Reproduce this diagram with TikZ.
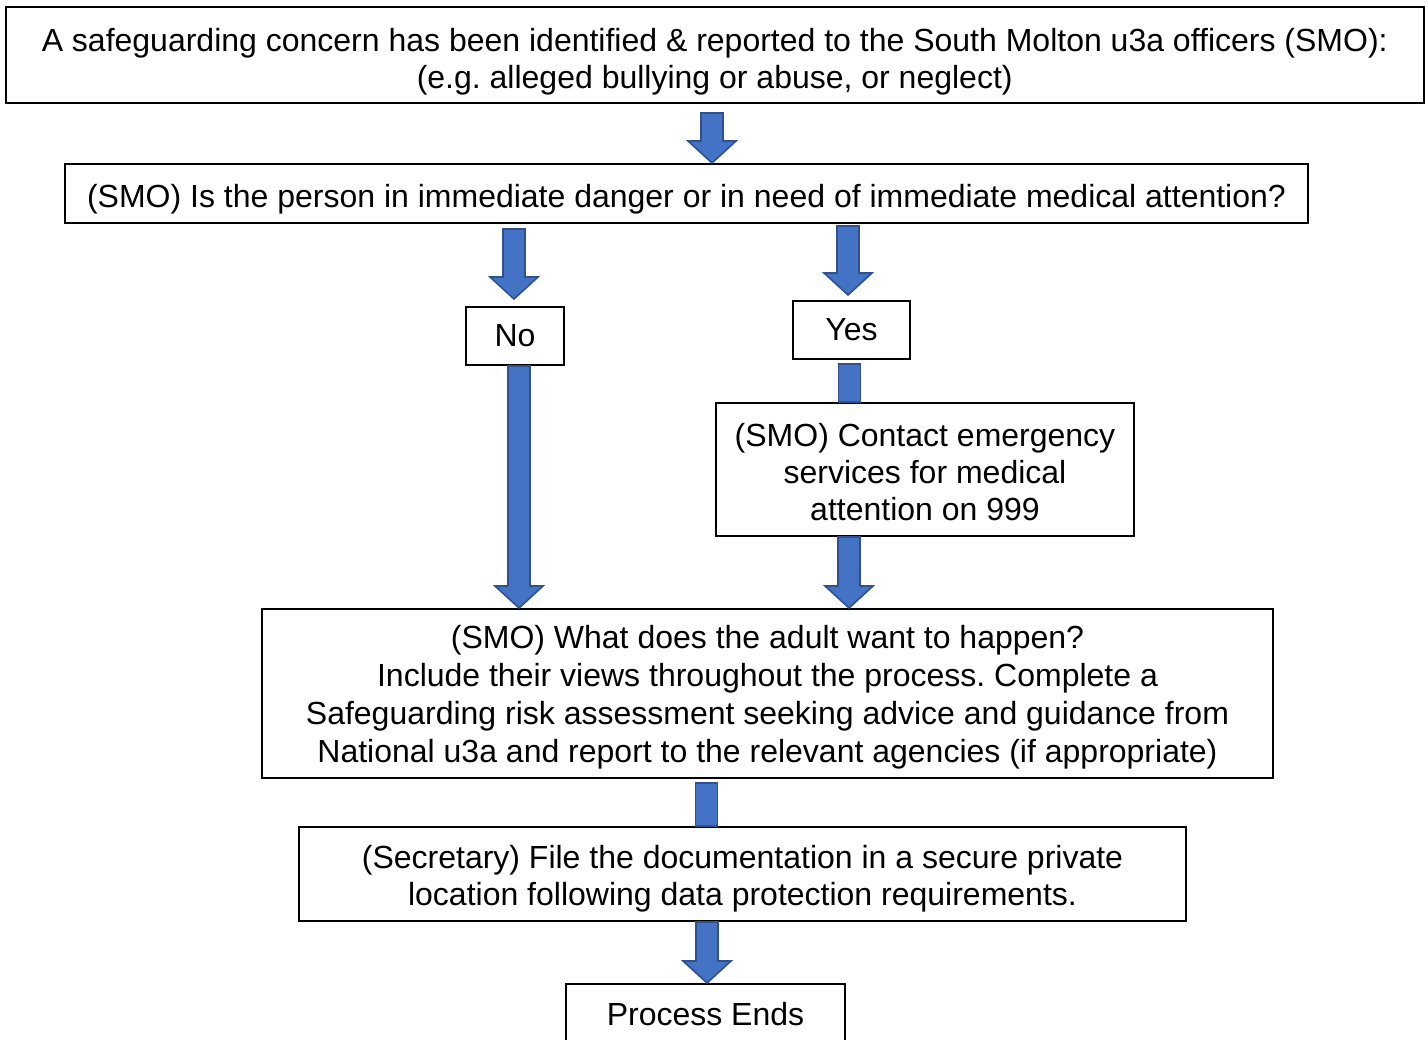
\documentclass[tikz,border=0pt]{standalone}
\usepackage{fontspec}
\setmainfont{Liberation Sans}
\frenchspacing
\usetikzlibrary{calc}
\definecolor{arrowblue}{HTML}{4472C4}
\definecolor{arrowedge}{HTML}{2F528F}
\tikzset{
  box/.style={
    rectangle, draw=black, line width=1pt, fill=white,
    align=center, inner sep=2pt,
    font=\fontsize{16}{18.5}\selectfont
  },
  barrow/.style={fill=arrowblue, draw=arrowedge, line width=0.8pt, line join=miter}
}
% strut that pushes the text of a box down a little
\newcommand{\lowered}[1]{\rule{0pt}{#1}}
% block arrow: x position, from anchor, to anchor, gap at start, gap at end
\newcommand{\blockarrow}[5]{%
  \draw[barrow] let \p1=(#2 -| #1,0), \p2=(#3 -| #1,0) in
    (\x1-5.5pt,\y1-#4) -- (\x1-5.5pt,\y2+#5+11pt) -- (\x1-12pt,\y2+#5+11pt)
    -- (\x1,\y2+#5) -- (\x1+12pt,\y2+#5+11pt) -- (\x1+5.5pt,\y2+#5+11pt)
    -- (\x1+5.5pt,\y1-#4) -- cycle;}
% plain bar between two boxes
\newcommand{\blockshaft}[3]{%
  \draw[barrow] let \p1=(#2 -| #1,0), \p2=(#3 -| #1,0) in
    (\x1-5.5pt,\y1-2pt) rectangle (\x1+5.5pt,\y2);}

\begin{document}
\begin{tikzpicture}[x=0.5pt, y=-0.5pt]
  \useasboundingbox (0,0) rectangle (1428,1039);

  \node[box, minimum width=709pt, minimum height=48pt] (report) at (714.75,55)
    {\lowered{18.2pt}A safeguarding concern has been identified \& reported to the South Molton u3a officers (SMO):\\
     (e.g. alleged bullying or abuse, or neglect)};
  \node[box, minimum width=621.5pt, minimum height=29.5pt] (danger) at (686.5,193.5)
    {\lowered{17.7pt}(SMO) Is the person in immediate danger or in need of immediate medical attention?};
  \node[box, minimum width=49pt, minimum height=29pt] (no) at (515,336) {No};
  \node[box, minimum width=58.5pt, minimum height=29pt] (yes) at (851.5,330) {Yes};
  \node[box, minimum width=209pt, minimum height=66.5pt] (call) at (925,469.5)
    {\lowered{13.7pt}(SMO) Contact emergency\\ services for medical\\ attention on 999};
  \node[box, font=\fontsize{16}{19}\selectfont,
        minimum width=505.5pt, minimum height=84.5pt] (wishes) at (767.5,693.5)
    {\lowered{15.7pt}(SMO) What does the adult want to happen?\\
     Include their views throughout the process. Complete a\\
     Safeguarding risk assessment seeking advice and guidance from\\
     National u3a and report to the relevant agencies (if appropriate)};
  \node[box, minimum width=443.5pt, minimum height=47pt] (file) at (742.5,874)
    {\lowered{16.7pt}(Secretary) File the documentation in a secure private\\
     location following data protection requirements.};
  \node[box, minimum width=139.5pt, minimum height=30pt] (ends) at (705.5,1014) {Process Ends};

  \blockarrow{712}{report.south}{danger.north}{4.5pt}{0pt}
  \blockarrow{514}{danger.south}{no.north}{2.5pt}{3.5pt}
  \blockarrow{848}{danger.south}{yes.north}{1pt}{2.5pt}
  \blockshaft{849.5}{yes.south}{call.north}
  \blockarrow{519}{no.south}{wishes.north}{0pt}{0pt}
  \blockarrow{849}{call.south}{wishes.north}{0pt}{0pt}
  \blockshaft{706.5}{wishes.south}{file.north}
  \blockarrow{707}{file.south}{ends.north}{0pt}{0pt}
\end{tikzpicture}
\end{document}
